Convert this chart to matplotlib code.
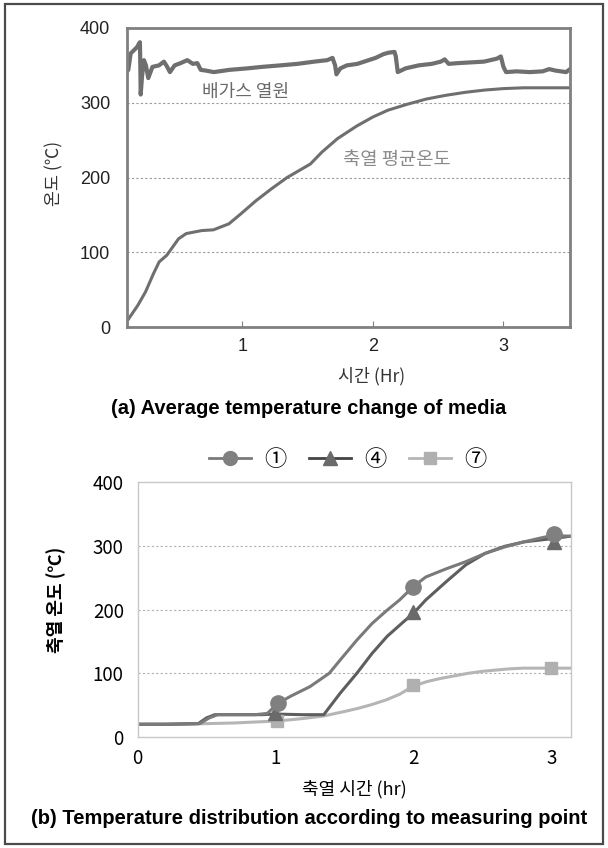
import matplotlib
matplotlib.use("Agg")
import matplotlib.pyplot as plt
from matplotlib.lines import Line2D
from matplotlib.patches import Rectangle
from matplotlib import font_manager as fm

KR = 'Noto Sans CJK KR'
names = {f.name for f in fm.fontManager.ttflist}
NARROW = 'Liberation Sans Narrow' if 'Liberation Sans Narrow' in names else 'Liberation Sans'
plt.rcParams['font.family'] = [KR, 'DejaVu Sans']

# ---------------- data: (a) ----------------
exh_t = [0.12, 0.125, 0.143, 0.19, 0.207, 0.214, 0.217, 0.22, 0.23, 0.245, 0.26, 0.278, 0.31,
         0.36, 0.398, 0.42, 0.444, 0.48, 0.526, 0.577, 0.62, 0.654, 0.68, 0.72, 0.78, 0.9,
         1.037, 1.15, 1.29, 1.42, 1.55, 1.65, 1.69, 1.71, 1.72, 1.75, 1.80, 1.88, 1.95, 2.02,
         2.08, 2.12, 2.165, 2.175, 2.19, 2.25, 2.35, 2.45, 2.52, 2.55, 2.58, 2.65, 2.75, 2.85,
         2.95, 2.98, 3.00, 3.02, 3.1, 3.2, 3.3, 3.35, 3.4, 3.48, 3.51]
exh_v = [343, 344, 366, 374, 379, 381, 350, 311, 335, 357, 350, 333, 348,
         350, 355, 349, 341, 350, 353, 357, 352, 353, 344, 343, 341, 344,
         346, 348, 350, 352, 355, 357, 360, 350, 338, 346, 350, 352, 356, 360,
         365, 367, 368, 362, 341, 346, 350, 352, 355, 358, 352, 353, 354, 355,
         359, 362, 348, 341, 342, 341, 342, 345, 343, 341, 345]

avg_t = [0.12, 0.198, 0.257, 0.317, 0.361, 0.42, 0.51, 0.569, 0.688, 0.777, 0.896, 0.985,
         1.104, 1.223, 1.342, 1.52, 1.609, 1.728, 1.877, 2.0, 2.114, 2.263, 2.41, 2.56,
         2.709, 2.857, 3.006, 3.155, 3.51]
avg_v = [9, 29, 47, 71, 87, 96, 118, 125, 129, 130, 138, 151,
         169, 185, 200, 218, 234, 252, 269, 281, 290, 298, 305, 310,
         314, 317, 319, 320, 320]

# ---------------- data: (b) ----------------
p1_t = [0, 0.2, 0.45, 0.52, 0.58, 0.7, 0.85, 0.94, 1.02, 1.11, 1.25, 1.39, 1.47, 1.59, 1.70,
        1.81, 1.90, 2.0, 2.09, 2.24, 2.38, 2.52, 2.66, 2.80, 2.94, 3.01, 3.14]
p1_v = [20, 20, 21, 30, 35, 35, 35, 37, 53, 64, 79, 100, 121, 152, 178,
        199, 215, 236, 251, 264, 275, 288, 298, 306, 313, 316, 315]
p4_t = [0, 0.2, 0.44, 0.5, 0.56, 0.7, 0.9, 1.0, 1.2, 1.35, 1.47, 1.59, 1.70, 1.81, 1.93,
        2.0, 2.09, 2.24, 2.38, 2.52, 2.66, 2.8, 3.0, 3.14]
p4_v = [20, 20, 21, 30, 35, 35, 35, 36, 35, 35, 69, 100, 131, 158, 181,
        194, 215, 244, 270, 288, 299, 306, 311, 315]
p7_t = [0, 0.3, 0.5, 0.7, 0.9, 1.01, 1.2, 1.35, 1.5, 1.6, 1.7, 1.8, 1.9, 2.0, 2.1, 2.2,
        2.3, 2.4, 2.5, 2.6, 2.7, 2.8, 2.9, 3.0, 3.14]
p7_v = [20, 20, 21, 22, 24, 25, 29, 33, 40, 45, 51, 58, 67, 80, 87, 92,
        96, 100, 103, 105, 107, 108, 108, 108, 108]
m1_t, m1_v = [1.02, 2.0, 3.02], [53, 236, 318]
m4_t, m4_v = [1.0, 2.0, 3.02], [37, 196, 306]
m7_t, m7_v = [1.01, 2.0, 3.0], [25, 82, 108]
labels_b = ['①', '④', '⑦']

fig = plt.figure(figsize=(6.08, 8.48), dpi=100)
fig.patches.append(Rectangle((5/608, 4/848), 598/608, 840/848, transform=fig.transFigure,
                             fill=False, edgecolor='#4a4a4a', lw=1.6, zorder=0))

# ---------------- (a) ----------------
ax1 = fig.add_axes([127/608, 1-327/848, 443/608, 299/848])
ax1.plot(exh_t, exh_v, color='#6f6f6f', lw=3.0, solid_joinstyle='round')
ax1.plot(avg_t, avg_v, color='#6f6f6f', lw=2.2)
ax1.set_xlim(0.115, 3.51)
ax1.set_ylim(0, 400)
ax1.set_xticks([1, 2, 3])
ax1.set_yticks([0, 100, 200, 300, 400])
for y in [100, 200, 300]:
    ax1.axhline(y, color='#9a9a9a', lw=0.8, ls=(0, (2, 2)), zorder=0)
for s in ax1.spines.values():
    s.set_color('#808080'); s.set_linewidth(2.0)
ax1.tick_params(axis='x', direction='in', length=4, color='#808080', pad=8)
ax1.tick_params(axis='y', length=0, pad=12)
for lab in ax1.get_xticklabels() + ax1.get_yticklabels():
    lab.set_fontfamily(NARROW); lab.set_fontsize(13); lab.set_color('#222222')
fig.text(246/608, 1-92/848, '배가스 열원', ha='center', va='center', fontsize=13,
         color='#6a6a6a')
fig.text(397/608, 1-160/848, '축열 평균온도', ha='center', va='center', fontsize=13.5,
         color='#8a8a8a')
fig.text(54/608, 1-173/848, '온도 (℃)', rotation=90, ha='center', va='center',
         fontsize=12.5, color='#333333')
fig.text(372/608, 1-376/848, '시간 (Hr)', ha='center', va='center', fontsize=12.5,
         color='#333333')
fig.text(309/608, 1-409/848, '(a) Average temperature change of media', ha='center',
         va='center', fontsize=14.5, fontweight='bold', family=[NARROW, 'DejaVu Sans'])

# ---------------- (b) ----------------
ax2 = fig.add_axes([137.6/608, 1-737/848, 433/608, 255/848])
ax2.plot(p7_t, p7_v, color='#b5b5b5', lw=2.2)
ax2.plot(p4_t, p4_v, color='#5e5e5e', lw=2.2)
ax2.plot(p1_t, p1_v, color='#7a7a7a', lw=2.2)
ax2.plot(m7_t, m7_v, ls='none', marker='s', ms=9, color='#b0b0b0')
ax2.plot(m4_t, m4_v, ls='none', marker='^', ms=10, color='#6a6a6a')
ax2.plot(m1_t, m1_v, ls='none', marker='o', ms=11, color='#808080')
ax2.set_xlim(0, 3.14)
ax2.set_ylim(0, 400)
ax2.set_xticks([0, 1, 2, 3])
ax2.set_yticks([0, 100, 200, 300, 400])
for y in [100, 200, 300]:
    ax2.axhline(y, color='#b0b0b0', lw=0.8, ls=(0, (2, 2)), zorder=0)
for s in ax2.spines.values():
    s.set_color('#c8c8c8'); s.set_linewidth(1.0)
ax2.tick_params(length=0, labelsize=13.5)
ax2.tick_params(axis='y', pad=10)
ax2.tick_params(axis='x', pad=8)
for lab in ax2.get_xticklabels() + ax2.get_yticklabels():
    lab.set_fontweight('medium')
ax2.set_xlabel('축열 시간 (hr)', fontsize=13, fontweight='medium', labelpad=8)
fig.text(56/608, 1-600/848, '축열 온도 (℃)', rotation=90, ha='center', va='center',
         fontsize=13, fontweight='bold')

handles = [Line2D([], [], color='#7a7a7a', lw=2.0, marker='o', ms=10, mfc='#808080', mec='#808080'),
           Line2D([], [], color='#444444', lw=2.0, marker='^', ms=10, mfc='#6a6a6a', mec='#6a6a6a'),
           Line2D([], [], color='#b5b5b5', lw=2.0, marker='s', ms=8, mfc='#b0b0b0', mec='#b0b0b0')]
fig.legend(handles, labels_b, loc='center', bbox_to_anchor=(348/608, 1-459/848), ncol=3,
           frameon=False, fontsize=16, handlelength=1.9, columnspacing=1.0, handletextpad=0.6)

fig.text(309/608, 1-818/848, '(b) Temperature distribution according to measuring point',
         ha='center', va='center', fontsize=14.5, fontweight='bold',
         family=[NARROW, 'DejaVu Sans'])

fig.savefig('out.png', dpi=100)
